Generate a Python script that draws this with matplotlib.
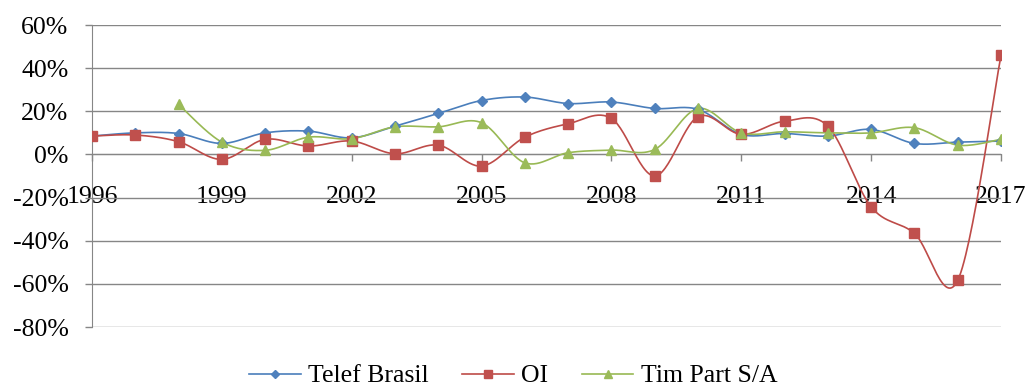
import numpy as np
import matplotlib.pyplot as plt
from matplotlib.ticker import FuncFormatter, MultipleLocator

plt.rcParams["font.family"] = ["Liberation Serif", "DejaVu Serif"]

# dados (variação anual, %)
anos = list(range(1996, 2018))
telef_brasil = [8.5, 10.0, 9.7, 5.1, 10.0, 10.8, 7.7, 13.1, 19.0, 25.0, 26.6,
                23.6, 24.3, 21.3, 20.9, 9.3, 9.7, 8.5, 11.6, 5.1, 5.7, 6.2]
oi = [8.5, 9.0, 5.9, -2.3, 7.0, 3.9, 6.2, 0.3, 4.3, -5.4, 8.0,
      14.2, 16.7, -10.0, 17.5, 9.3, 15.4, 13.1, -24.3, -36.6, -58.4, 45.9]
anos_tim = list(range(1998, 2018))
tim_part = [23.2, 5.7, 1.9, 8.0, 7.3, 12.8, 12.8, 14.7, -3.9, 0.8,
            2.0, 2.3, 21.3, 10.0, 10.5, 10.0, 10.0, 12.4, 4.3, 7.0]
anos_rotulo = list(range(1996, 2018, 3))

series = [
    ("Telef Brasil", anos, telef_brasil, "#4A7EBB", "#4F81BD", "D", 5.5),
    ("OI", anos, oi, "#BE4B48", "#C0504D", "s", 7.5),
    ("Tim Part S/A", anos_tim, tim_part, "#98B954", "#9BBB59", "^", 7.5),
]


def suavizar(x, y, n=30):
    # curva suave estilo Excel (Bezier com tangentes de Catmull-Rom)
    x = np.asarray(x, float)
    y = np.asarray(y, float)
    px = np.concatenate([[x[0]], x, [x[-1]]])
    py = np.concatenate([[y[0]], y, [y[-1]]])
    xs, ys = [], []
    t = np.linspace(0, 1, n)
    for i in range(1, len(px) - 2):
        p0 = np.array([px[i - 1], py[i - 1]])
        p1 = np.array([px[i], py[i]])
        p2 = np.array([px[i + 1], py[i + 1]])
        p3 = np.array([px[i + 2], py[i + 2]])
        b1 = p1 + (p2 - p0) / 6
        b2 = p2 - (p3 - p1) / 6
        pts = ((1 - t) ** 3)[:, None] * p1 + (3 * (1 - t) ** 2 * t)[:, None] * b1 \
            + (3 * (1 - t) * t ** 2)[:, None] * b2 + (t ** 3)[:, None] * p2
        xs.extend(pts[:, 0])
        ys.extend(pts[:, 1])
    return xs, ys


fig = plt.figure(figsize=(10.27, 3.9), dpi=100)
ax = fig.add_axes([92 / 1027, 1 - 327 / 390, 909 / 1027, 302 / 390])

handles = []
for nome, x, y, cor_linha, cor_marca, marca, tam in series:
    sx, sy = suavizar(x, y)
    ax.plot(sx, sy, color=cor_linha, lw=1.2, zorder=3)
    ax.plot(x, y, ls="none", marker=marca, ms=tam, color=cor_marca, zorder=4)
    h, = ax.plot([], [], color=cor_linha, lw=1.2, marker=marca, ms=tam * 0.75,
                 markerfacecolor=cor_marca, markeredgecolor=cor_marca, label=nome)
    handles.append(h)

ax.set_xlim(1996, 2017)
ax.set_ylim(-80, 60)
ax.yaxis.set_major_locator(MultipleLocator(20))
ax.yaxis.set_major_formatter(FuncFormatter(lambda v, p: f"{v:.0f}%"))
ax.set_xticks(anos_rotulo)
ax.grid(axis="y", color="#868686", lw=1.0, zorder=1)

for s in ["top", "right"]:
    ax.spines[s].set_visible(False)
ax.spines["left"].set_color("#868686")
ax.spines["bottom"].set_color("#868686")
ax.spines["bottom"].set_position(("data", 0))
ax.tick_params(axis="both", direction="out", length=5, width=1.0,
               color="#868686", labelsize=18.5)
ax.tick_params(axis="y", pad=12)
ax.tick_params(axis="x", pad=18)

fig.legend(handles=handles, loc="center", bbox_to_anchor=(0.5, 1 - 376 / 390),
           ncol=3, frameon=False, fontsize=18.5, handlelength=2.0,
           handletextpad=0.3, columnspacing=1.3)

fig.savefig("out.png", dpi=100)
